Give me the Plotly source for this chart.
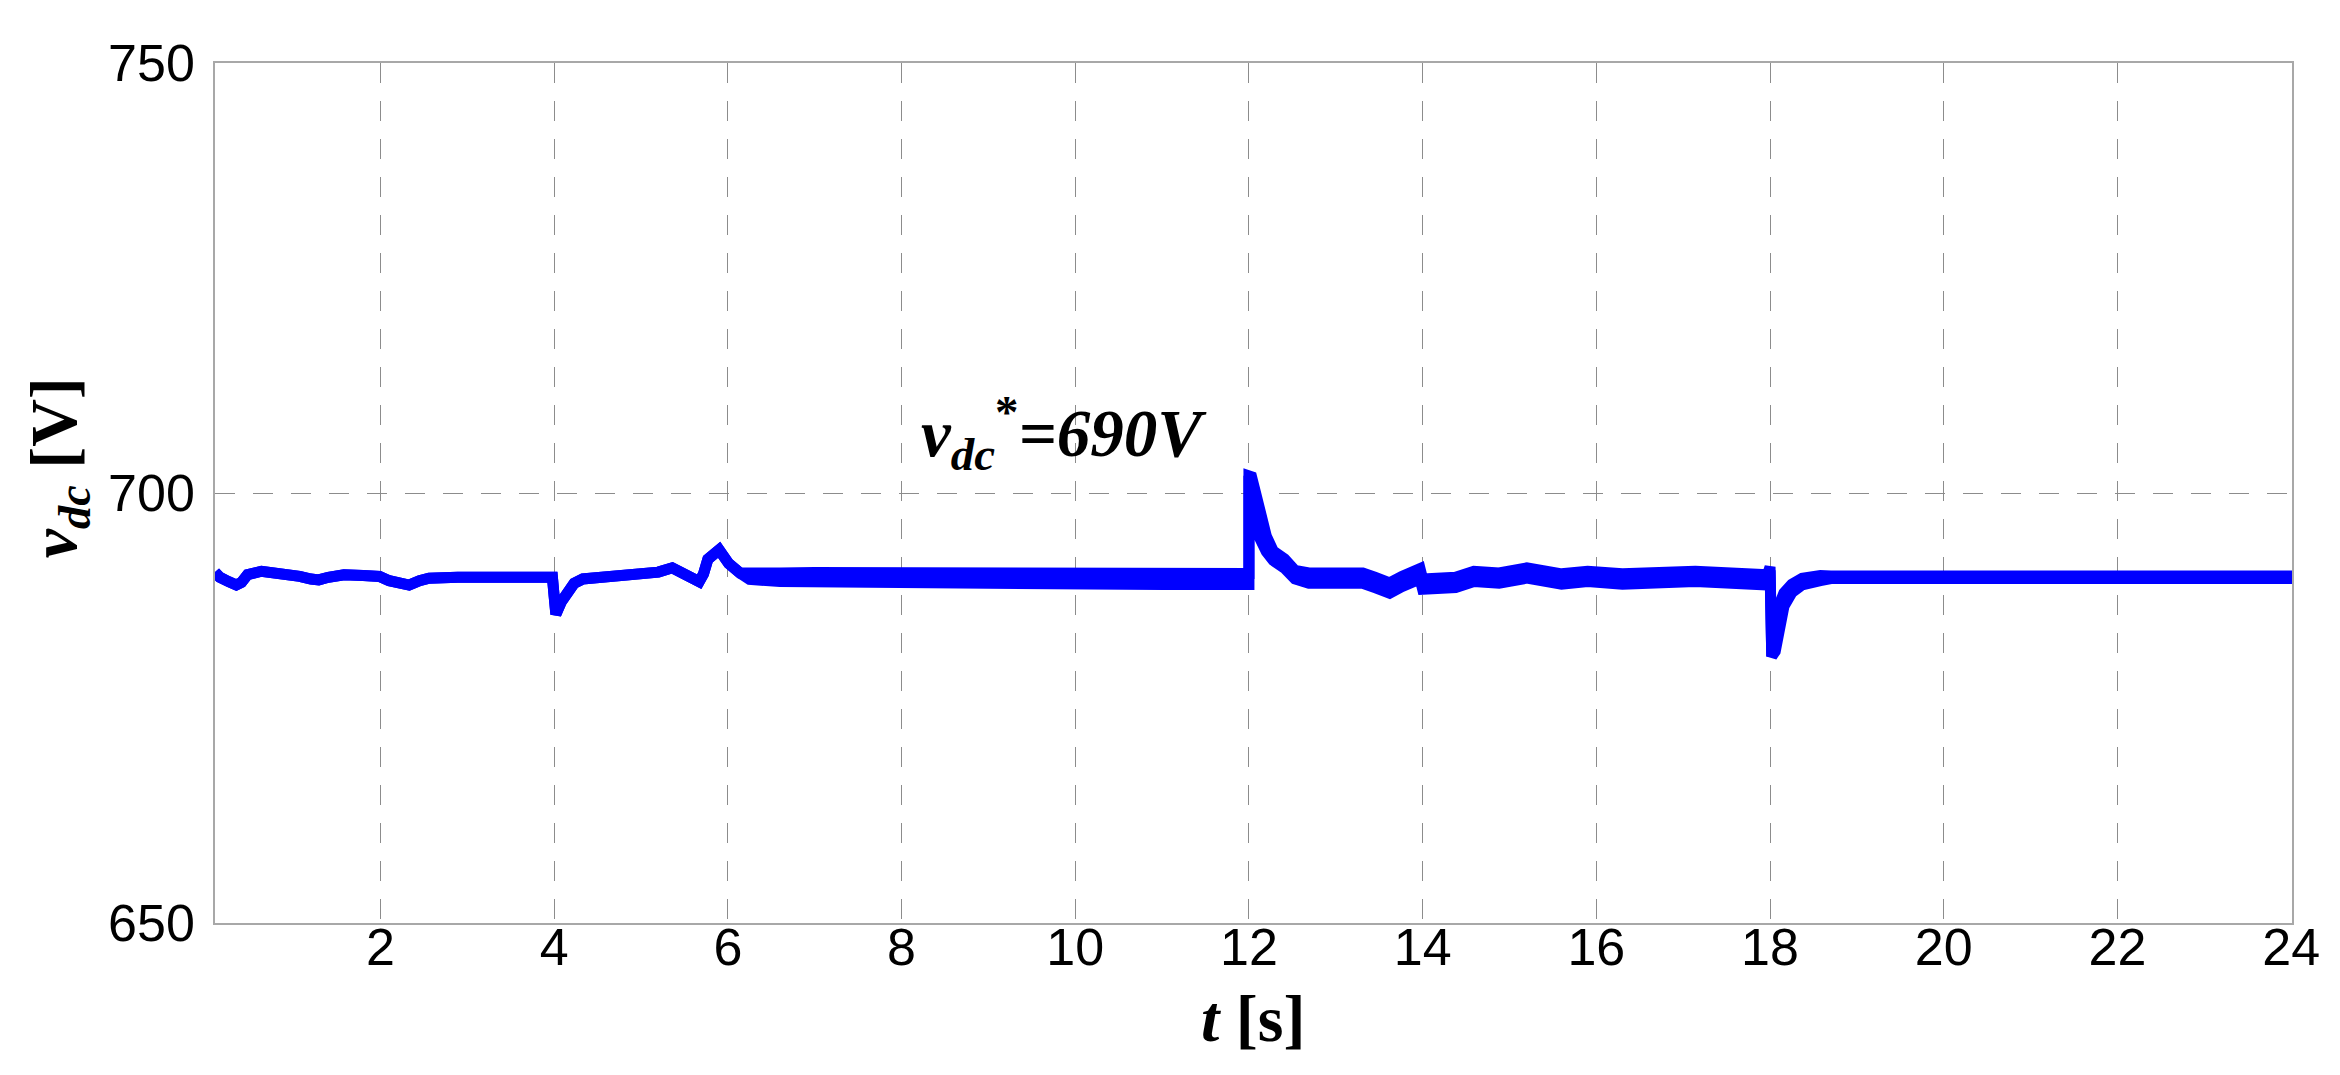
import plotly.graph_objects as go

# ---- data ----
t_s = [0.095, 0.15, 0.25, 0.34, 0.40, 0.47, 0.63, 0.80, 1.00, 1.07, 1.20, 1.29, 1.40, 1.58, 1.80, 1.99,
       2.10, 2.23, 2.33, 2.45, 2.56, 2.89, 3.50, 3.98, 4.00, 4.02, 4.08, 4.15, 4.23, 4.33, 4.50, 4.73,
       5.00, 5.20, 5.36, 5.45, 5.52, 5.62, 5.67, 5.72, 5.77, 5.90, 6.01, 6.14, 6.25,
       6.60, 7.00, 8.00, 9.00, 10.00, 11.00, 11.98, 12.00, 12.00, 12.03, 12.06, 12.12, 12.20, 12.28,
       12.41, 12.53, 12.69, 13.00, 13.31, 13.45, 13.62, 13.76, 13.97, 14.00, 14.22, 14.38, 14.59,
       14.88, 15.20, 15.37, 15.60, 15.90, 16.30, 17.14, 17.75, 17.97, 18.00, 18.01, 18.02, 18.06,
       18.12, 18.16, 18.25, 18.37, 18.58, 18.70, 24.01]
vdc_center = [690.8, 690.2, 689.7, 689.3, 689.6, 690.5, 690.9, 690.7, 690.7, 690.3, 690.0, 689.9, 690.2, 690.5, 690.4, 690.3,
              689.8, 689.5, 689.3, 689.8, 690.1, 690.2, 690.2, 690.2, 688.0, 685.9, 687.3, 688.6, 689.5, 690.0, 690.2, 690.2,
              690.5, 690.8, 691.3, 690.8, 690.5, 690.2, 689.7, 690.6, 692.3, 693.4, 691.8, 690.7, 690.3,
              690.2, 690.2, 690.1, 690.0, 690.0, 690.0, 690.0, 690.0, 702.0, 701.6, 698.4, 696.1, 694.1, 692.7,
              691.8, 690.5, 690.1, 690.1, 690.1, 689.6, 688.95, 689.7, 690.6, 689.4, 689.4, 689.6, 690.3,
              690.1, 690.7, 690.5, 690.0, 690.3, 690.0, 690.3, 689.9, 689.9, 691.2, 685.0, 681.0, 683.7,
              686.3, 687.6, 688.9, 689.7, 690.1, 690.2, 690.2]
vdc_ripple = [0.0, 0.0, 0.0, 0.0, 0.0, 0.0, 0.0, 0.0, 0.0, 0.0, 0.0, 0.0, 0.0, 0.0, 0.0, 0.0,
              0.0, 0.0, 0.0, 0.0, 0.0, 0.0, 0.0, 0.0, 0.0, 0.0, 0.0, 0.0, 0.0, 0.0, 0.0, 0.0,
              0.0, 0.0, 0.0, 0.0, 0.0, 0.0, 0.0, 0.0, 0.0, 0.0, 0.0, 0.0, 0.35,
              0.5, 0.55, 0.65, 0.65, 0.65, 0.65, 0.65, 0.65, 0.0, 0.3, 2.3, 1.5, 0.9, 0.55,
              0.55, 0.5, 0.6, 0.6, 0.6, 0.6, 0.6, 0.6, 0.6, 0.6, 0.6, 0.6, 0.6,
              0.6, 0.6, 0.6, 0.6, 0.6, 0.6, 0.6, 0.6, 0.6, 0.2, 0.0, 0.0, 2.1,
              1.07, 0.78, 0.49, 0.39, 0.3, 0.15, 0.15]

x_ticks = [2, 4, 6, 8, 10, 12, 14, 16, 18, 20, 22, 24]
y_ticks = [650, 700, 750]

lower = [c - r for c, r in zip(vdc_center, vdc_ripple)]
upper = [c + r for c, r in zip(vdc_center, vdc_ripple)]

BLUE = "#0000FF"
LW = 11

fig = go.Figure()
fig.add_trace(go.Scatter(x=t_s, y=lower, mode="lines",
                         line=dict(color=BLUE, width=LW), showlegend=False, hoverinfo="skip"))
fig.add_trace(go.Scatter(x=t_s, y=upper, mode="lines", fill="tonexty", fillcolor=BLUE,
                         line=dict(color=BLUE, width=LW), showlegend=False, hoverinfo="skip"))

tickfont = dict(family="Liberation Sans Narrow, Arial Narrow, Liberation Sans, Arial", size=52, color="black")
serif = "Liberation Serif, Times New Roman, serif"

fig.update_layout(
    width=2340, height=1075,
    margin=dict(l=207, r=56, t=55, b=160),
    paper_bgcolor="white", plot_bgcolor="white",
    xaxis=dict(range=[0.095, 24.01], tickvals=x_ticks, ticktext=[str(v) for v in x_ticks],
               tickfont=tickfont, showgrid=True, gridcolor="#8c8c8c", gridwidth=1, griddash="20px,18px",
               showline=True, mirror=True, linecolor="#a8a8a8", linewidth=1.5, ticks="",
               zeroline=False, ticklabelstandoff=-22),
    yaxis=dict(range=[650, 750], tickvals=y_ticks, ticktext=[str(v) for v in y_ticks],
               tickfont=tickfont, showgrid=True, gridcolor="#8c8c8c", gridwidth=1, griddash="20px,18px",
               showline=True, mirror=True, linecolor="#a8a8a8", linewidth=1.5, ticks="",
               zeroline=False, ticklabelstandoff=8),
    annotations=[
        dict(text="<b><i>v</i></b><sub><b><i>dc</i></b></sub><sup><b>*</b></sup><b><i>=690V</i></b>",
             x=8.2, y=707.0, xref="x", yref="y", xanchor="left", yanchor="middle",
             showarrow=False, font=dict(family=serif, size=67, color="black")),
        dict(text="<b><i>t</i> [s]</b>", x=0.5, y=-0.111, xref="paper", yref="paper",
             xanchor="center", yanchor="middle", showarrow=False,
             font=dict(family=serif, size=66, color="black")),
        dict(text="<b><i>v</i></b><sub><b><i>dc</i></b></sub><b> [V]</b>", x=-0.0755, y=0.529,
             xref="paper", yref="paper", xanchor="center", yanchor="middle", textangle=-90,
             showarrow=False, font=dict(family=serif, size=66, color="black")),
    ],
)

fig.write_html("out.html")
